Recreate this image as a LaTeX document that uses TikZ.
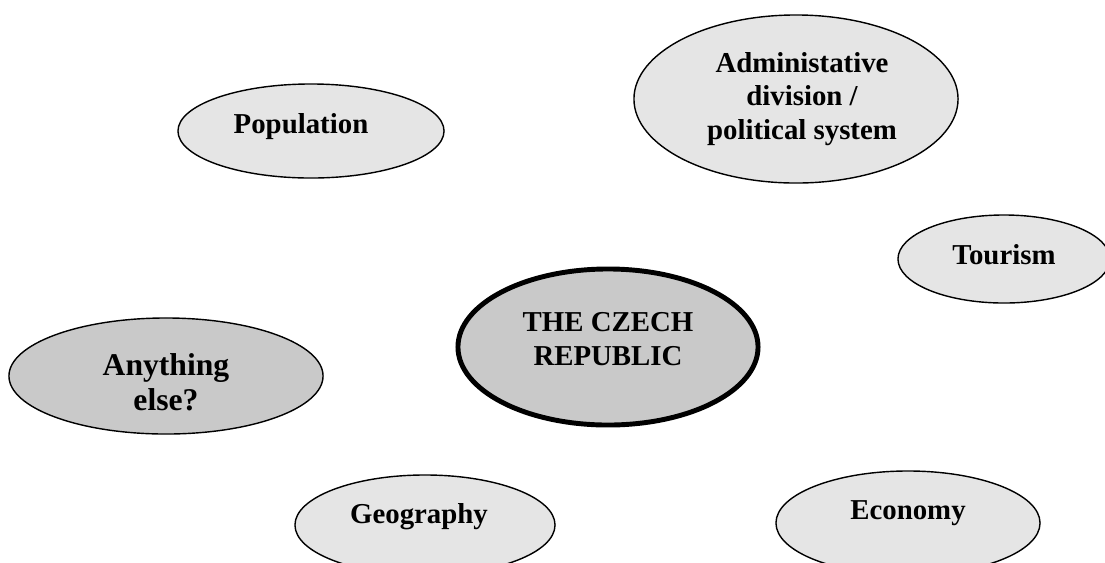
\documentclass[tikz,border=0pt]{standalone}
\usepackage{fontspec}
\setmainfont{Liberation Serif}
\usetikzlibrary{shapes.geometric}

\tikzset{
  bubble/.style={ellipse, draw=black, line width=1pt, fill=black!10, inner sep=0pt},
  darkbubble/.style={bubble, fill=black!21},
  ellsize/.style 2 args={minimum width=#1*0.05cm, minimum height=#2*0.05cm},
  bubtext/.style={font=\fontsize{20.5}{24}\selectfont\bfseries, align=center},
  bigtext/.style={font=\fontsize{22.5}{24.8}\selectfont\bfseries, align=center},
}

\begin{document}
\begin{tikzpicture}[x=0.025cm, y=-0.025cm]
    % Fix the page to the size of the reference (pixel units, y down)
    \useasboundingbox (0,0) rectangle (1105,562);

    % Draw the topic bubbles
    \node[bubble, ellsize={133}{47}, label={[bubtext, xshift=-0.25cm, yshift=0.1cm]center:Population}] (pop) at (311,131) {};
    \node[bubble, ellsize={162}{84}, label={[bubtext, xshift=0.15cm]center:{Administative\\division /\\political system}}] (admin) at (796,99) {};
    \node[bubble, ellsize={106}{44}, label={[bubtext, yshift=0.1cm]center:Tourism}] (tour) at (1004,259) {};
    \node[bubble, ellsize={130}{50}, label={[bubtext, xshift=-0.15cm, yshift=0.2cm]center:Geography}] (geo) at (425,525) {};
    \node[bubble, ellsize={132}{52}, label={[bubtext, yshift=0.25cm]center:Economy}] (econ) at (908,523) {};

    % Draw the darker ones
    \node[darkbubble, ellsize={157}{58}, label={[bigtext, yshift=-0.15cm]center:{Anything\\else?}}] (other) at (166,376) {};
    \node[darkbubble, line width=3.5pt, ellsize={150}{78}, label={[bubtext, yshift=0.2cm]center:{THE CZECH\\REPUBLIC}}] (cz) at (608,347) {};

\end{tikzpicture}
\end{document}
